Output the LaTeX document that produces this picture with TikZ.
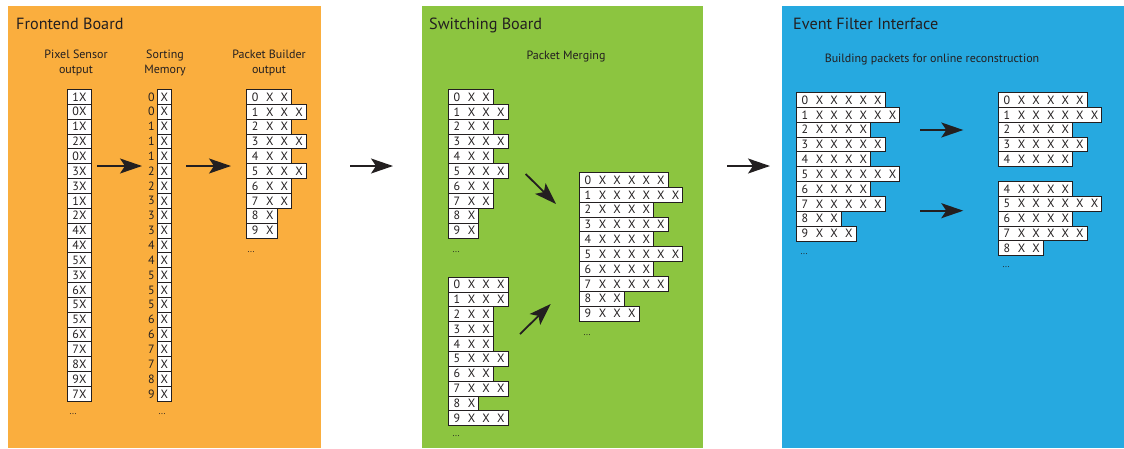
\documentclass[tikz,border=0pt]{standalone}
\usepackage{fontspec}
\setmainfont{PT Sans}
\usetikzlibrary{arrows.meta}

\definecolor{frontorange}{RGB}{250,174,62}
\definecolor{switchgreen}{RGB}{140,197,64}
\definecolor{filterblue}{RGB}{38,169,224}
\definecolor{inkblack}{RGB}{35,31,32}

% one cell of a packet row, and a run of X cells
\newcommand\pcell[1]{\makebox[14.6pt]{#1}}
\newcommand\pxs[1]{\ifcase#1\or\pcell{X}\or\pcell{X}\pcell{X}\or\pcell{X}\pcell{X}\pcell{X}\or\pcell{X}\pcell{X}\pcell{X}\pcell{X}\or\pcell{X}\pcell{X}\pcell{X}\pcell{X}\pcell{X}\or\pcell{X}\pcell{X}\pcell{X}\pcell{X}\pcell{X}\pcell{X}\fi}
% #1 name, #2 x, #3 top y, #4 list of number/count
\newcommand\packets[4]{%
  \foreach \n/\k [count=\i from 0] in {#4}
    \node[pkrow] (#1\i) at (#2,#3+\i*14.85) {\hspace{1.5pt}\pcell{\n}\pxs{\k}};}

\tikzset{
  pkrow/.style={draw=inkblack, fill=white, line width=0.9pt, inner sep=0pt,
    minimum height=14.85pt, anchor=north west, text=inkblack,
    font=\fontsize{12}{13}\selectfont},
  sensorbox/.style={pkrow, minimum width=24pt},
  sortbox/.style={pkrow, minimum width=14pt},
  sortnum/.style={inner sep=2.2pt, text=inkblack, font=\fontsize{12}{13}\selectfont},
  title/.style={anchor=base west, inner sep=0pt, text=inkblack, font=\fontsize{16.2}{19}\selectfont},
  subhead/.style={align=center, inner sep=0pt, text=inkblack, font=\fontsize{12}{14.7}\selectfont},
  dots/.style={inner sep=0pt, text=inkblack, font=\fontsize{9}{10}\selectfont},
  flow/.style={draw=inkblack, line width=1.8pt, -{Stealth[length=22pt, width=15pt, inset=5pt]}}
}

\begin{document}
\begin{tikzpicture}[x=1pt, y=-1pt]
  \fill[white] (0,0) rectangle (1124,448);
  \useasboundingbox (0,0) rectangle (1124,448);

  % panels
  \fill[frontorange] (8,6) rectangle (321,448);
  \fill[switchgreen] (422,6) rectangle (703,448);
  \fill[filterblue] (782,6) rectangle (1124,448);

  % Frontend Board
  \node[title] (fbtitle) at (16,29.5) {Frontend Board};
  \node[subhead] (pshead) at (76,63) {Pixel Sensor\\output};
  \node[subhead] (smhead) at (165,63) {Sorting\\Memory};
  \node[subhead] (pbhead) at (269,63) {Packet Builder\\output};
  \foreach \v [count=\i from 0] in {1,0,1,2,0,3,3,1,2,4,4,5,3,6,5,5,6,7,8,9,7}
    \node[sensorbox] (ps\i) at (67,89+\i*14.85) {\v X};
  \foreach \v [count=\i from 0] in {0,0,1,1,1,2,2,3,3,3,4,4,5,5,5,6,6,7,7,8,9}
    \node[sortbox, label={[sortnum]left:\v}] (sm\i) at (157,89+\i*14.85) {X};
  \packets{pb}{246}{89}{0/2,1/3,2/2,3/3,4/2,5/3,6/2,7/2,8/1,9/1}
  \node[dots] (psdots) at (73,414) {...};
  \node[dots] (smdots) at (162,414) {...};
  \node[dots] (pbdots) at (251,252) {...};

  % Switching Board
  \node[title] (sbtitle) at (429,29.5) {Switching Board};
  \node[subhead, anchor=base] (pmhead) at (566,59.3) {Packet Merging};
  \packets{sul}{447.7}{89}{0/2,1/3,2/2,3/3,4/2,5/3,6/2,7/2,8/1,9/1}
  \packets{sll}{447.7}{276.7}{0/3,1/3,2/2,3/2,4/2,5/3,6/2,7/3,8/1,9/3}
  \packets{smg}{578.7}{172}{0/5,1/6,2/4,3/5,4/4,5/6,6/4,7/5,8/2,9/3}
  \node[dots] (suldots) at (456,252) {...};
  \node[dots] (slldots) at (456,436) {...};
  \node[dots] (smgdots) at (587,335) {...};

  % Event Filter Interface
  \node[title] (eftitle) at (793,29.5) {Event Filter Interface};
  \node[subhead, anchor=base] (bphead) at (932,62.3) {Building packets for online reconstruction};
  \packets{efl}{795.7}{92}{0/5,1/6,2/4,3/5,4/4,5/6,6/4,7/5,8/2,9/3}
  \packets{efu}{997.7}{92}{0/5,1/6,2/4,3/5,4/4}
  \packets{efd}{997.7}{181}{4/4,5/6,6/4,7/5,8/2}
  \node[dots] (efldots) at (804,254) {...};
  \node[dots] (efddots) at (1006,267) {...};

  % arrows
  \coordinate (a1s) at (97,166);    \coordinate (a1e) at (142,166);
  \coordinate (a2s) at (186,166);   \coordinate (a2e) at (231,166);
  \coordinate (a3s) at (350,166);   \coordinate (a3e) at (393,166);
  \coordinate (a4s) at (525.7,174); \coordinate (a4e) at (556,204);
  \coordinate (a5s) at (520,334);   \coordinate (a5e) at (550.7,304);
  \coordinate (a6s) at (727,166);   \coordinate (a6e) at (770,166);
  \coordinate (a7s) at (920,130);   \coordinate (a7e) at (963.3,130);
  \coordinate (a8s) at (920,210.7); \coordinate (a8e) at (963.3,210.7);
  \foreach \a in {1,...,8}
    \draw[flow] (a\a s) -- (a\a e);
\end{tikzpicture}
\end{document}
